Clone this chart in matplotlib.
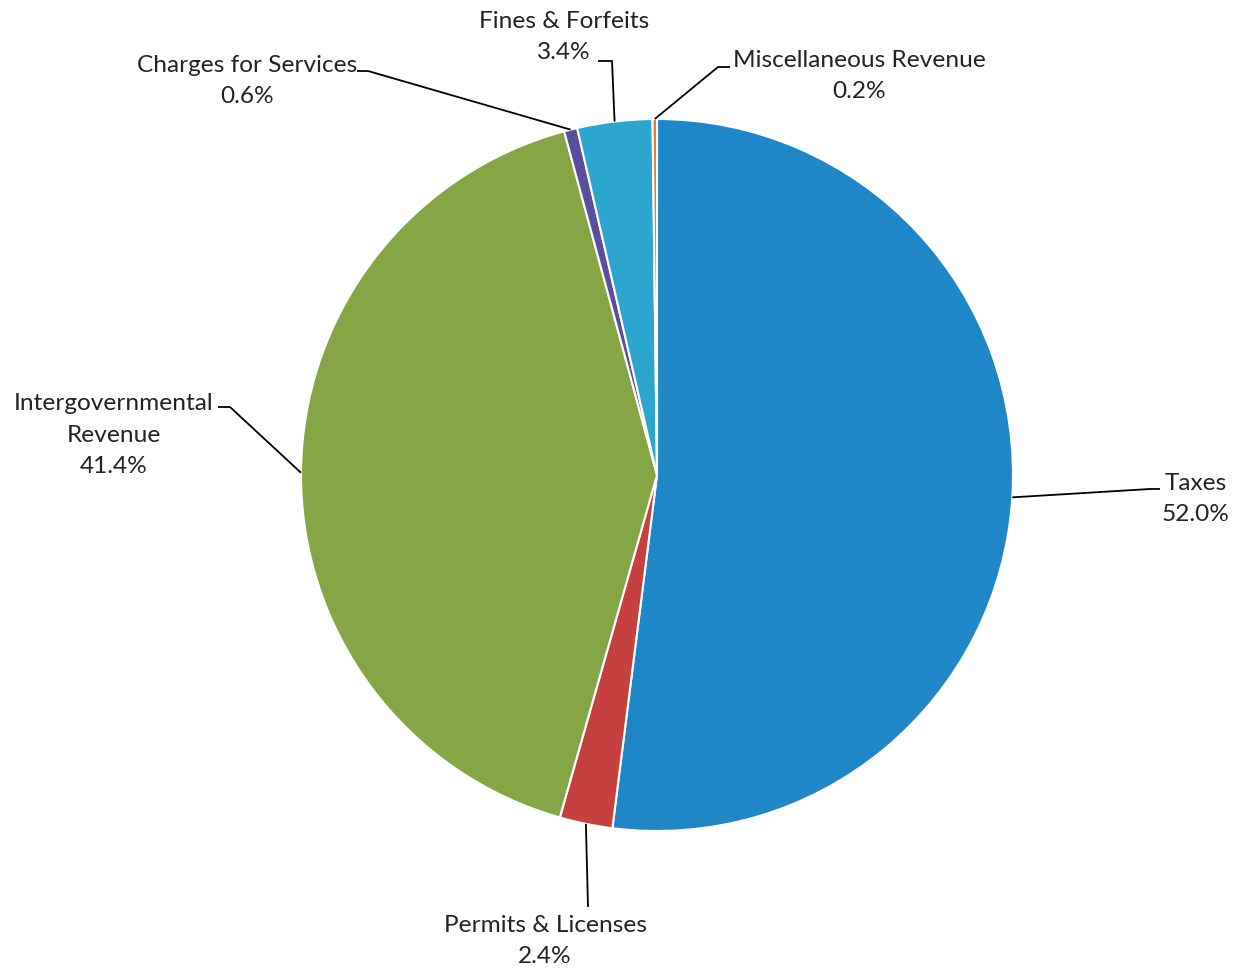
import numpy as np
import matplotlib
matplotlib.use("Agg")
import matplotlib.pyplot as plt

categories = ["Taxes", "Permits & Licenses", "Intergovernmental\nRevenue",
              "Charges for Services", "Fines & Forfeits", "Miscellaneous Revenue"]
values = [52.0, 2.4, 41.4, 0.6, 3.4, 0.2]
colors = ["#1f86c8", "#c5403f", "#86a646", "#5a4f9e", "#2ca5cf", "#e07a2a"]

W, H = 1242, 970
fig = plt.figure(figsize=(W / 100, H / 100), dpi=100)
ax = fig.add_axes([0, 0, 1, 1])

cx, cy, R = 657, H - 476, 356
ax.pie(values, colors=colors, startangle=90, counterclock=False,
       center=(cx, cy), radius=R,
       wedgeprops=dict(edgecolor="white", linewidth=1.5))
ax.set_xlim(0, W)
ax.set_ylim(0, H)
ax.set_aspect("equal")
ax.axis("off")

plt.rcParams['font.family'] = ['Lato', 'DejaVu Sans']

# layout: (elbow point, end point, text position) in pixel coords (y from top)
layout = [
    ((1150, 490), (1160, 490), (1196, 499)),
    ((588, 908), (588, 908), (545, 941)),
    ((230, 408), (218, 408), (114, 435)),
    ((368, 72), (357, 72), (247, 81)),
    ((612, 62), (598, 62), (564, 37)),
    ((718, 68), (730, 68), (859, 76)),
]

cum = np.cumsum([0] + values[:-1])
total = sum(values)
for i, (cat, v) in enumerate(zip(categories, values)):
    mid = (cum[i] + v / 2) / total * 360
    ang = np.deg2rad(90 - mid)
    x0, y0 = cx + R * np.cos(ang), cy + R * np.sin(ang)
    (ex, ey), (fx, fy), (tx, ty) = layout[i]
    ax.plot([x0, ex, fx], [y0, H - ey, H - fy], color="black", lw=1.3,
            solid_capstyle="butt")
    ax.text(tx, H - ty, f"{cat}\n{v:.1f}%", ha="center", va="center",
            fontsize=17.6, color="#222222", linespacing=1.62)

fig.savefig("out.png", dpi=100)
